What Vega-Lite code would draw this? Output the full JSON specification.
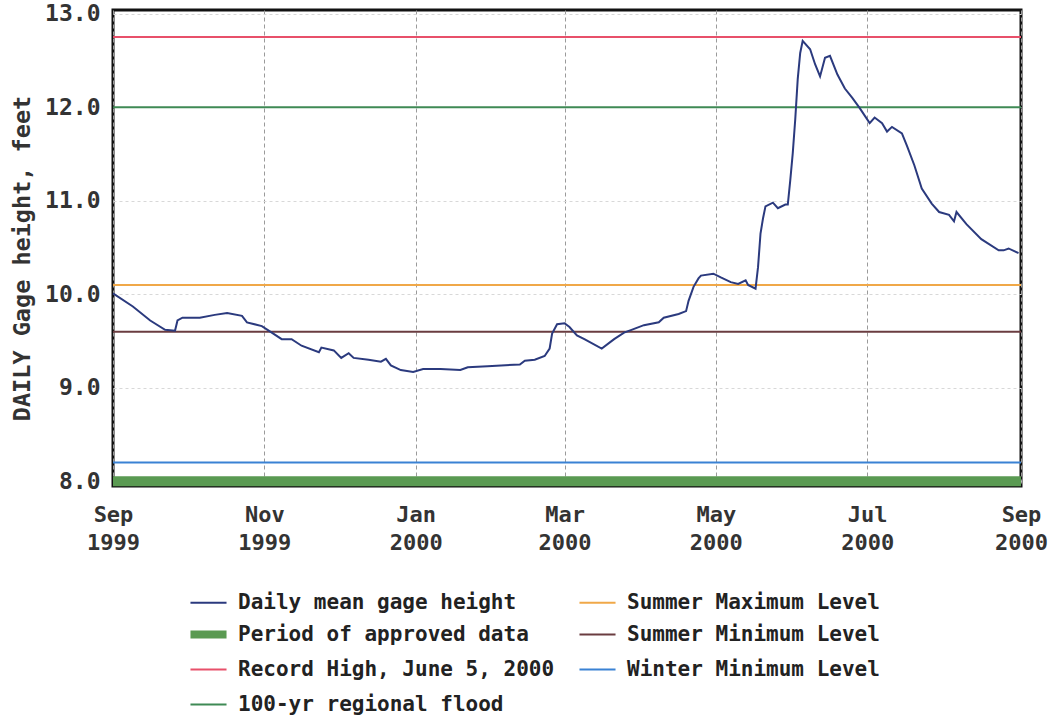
{
  "$schema": "https://vega.github.io/schema/vega-lite/v6.json",
  "width": 908,
  "height": 476,
  "autosize": {"type": "none"},
  "padding": {"left": 113, "top": 10, "right": 27, "bottom": 230},
  "background": "white",
  "config": {
    "view": {"stroke": "#111", "strokeWidth": 3},
    "font": "DejaVu Sans Mono"
  },
  "datasets": {
    "approved": [
      {"series": "Period of approved data", "value": 8.0}
    ],
    "levels": [
      {"series": "Record High, June 5, 2000", "value": 12.75},
      {"series": "100-yr regional flood", "value": 12.0},
      {"series": "Summer Maximum Level", "value": 10.1},
      {"series": "Summer Minimum Level", "value": 9.6},
      {"series": "Winter Minimum Level", "value": 8.2}
    ],
    "daily": [
      {"date": "1999-09-01T00:00", "value": 10.01},
      {"date": "1999-09-09T00:00", "value": 9.87},
      {"date": "1999-09-16T00:00", "value": 9.72},
      {"date": "1999-09-22T00:00", "value": 9.62},
      {"date": "1999-09-26T00:00", "value": 9.61},
      {"date": "1999-09-27T00:00", "value": 9.72},
      {"date": "1999-09-29T00:00", "value": 9.75},
      {"date": "1999-10-06T00:00", "value": 9.75},
      {"date": "1999-10-12T00:00", "value": 9.78},
      {"date": "1999-10-17T00:00", "value": 9.80},
      {"date": "1999-10-23T00:00", "value": 9.77},
      {"date": "1999-10-25T00:00", "value": 9.70},
      {"date": "1999-10-31T00:00", "value": 9.66},
      {"date": "1999-11-04T00:00", "value": 9.59},
      {"date": "1999-11-08T00:00", "value": 9.52},
      {"date": "1999-11-12T00:00", "value": 9.52},
      {"date": "1999-11-16T00:00", "value": 9.45},
      {"date": "1999-11-23T00:00", "value": 9.38},
      {"date": "1999-11-24T00:00", "value": 9.43},
      {"date": "1999-11-29T00:00", "value": 9.40},
      {"date": "1999-12-02T00:00", "value": 9.32},
      {"date": "1999-12-05T00:00", "value": 9.37},
      {"date": "1999-12-07T00:00", "value": 9.32},
      {"date": "1999-12-13T00:00", "value": 9.30},
      {"date": "1999-12-18T00:00", "value": 9.28},
      {"date": "1999-12-20T00:00", "value": 9.31},
      {"date": "1999-12-22T00:00", "value": 9.24},
      {"date": "1999-12-26T00:00", "value": 9.19},
      {"date": "1999-12-31T00:00", "value": 9.17},
      {"date": "2000-01-04T00:00", "value": 9.20},
      {"date": "2000-01-11T00:00", "value": 9.20},
      {"date": "2000-01-19T00:00", "value": 9.19},
      {"date": "2000-01-22T00:00", "value": 9.22},
      {"date": "2000-01-30T00:00", "value": 9.23},
      {"date": "2000-02-12T00:00", "value": 9.25},
      {"date": "2000-02-14T00:00", "value": 9.29},
      {"date": "2000-02-18T00:00", "value": 9.30},
      {"date": "2000-02-22T00:00", "value": 9.34},
      {"date": "2000-02-24T00:00", "value": 9.42},
      {"date": "2000-02-25T00:00", "value": 9.58},
      {"date": "2000-02-27T00:00", "value": 9.68},
      {"date": "2000-03-01T00:00", "value": 9.69},
      {"date": "2000-03-03T00:00", "value": 9.65},
      {"date": "2000-03-06T00:00", "value": 9.56},
      {"date": "2000-03-09T00:00", "value": 9.52},
      {"date": "2000-03-16T00:00", "value": 9.42},
      {"date": "2000-03-21T00:00", "value": 9.52},
      {"date": "2000-03-25T00:00", "value": 9.59},
      {"date": "2000-03-28T00:00", "value": 9.62},
      {"date": "2000-04-02T00:00", "value": 9.67},
      {"date": "2000-04-08T00:00", "value": 9.70},
      {"date": "2000-04-10T00:00", "value": 9.75},
      {"date": "2000-04-16T00:00", "value": 9.79},
      {"date": "2000-04-19T00:00", "value": 9.82},
      {"date": "2000-04-20T00:00", "value": 9.93},
      {"date": "2000-04-22T00:00", "value": 10.08},
      {"date": "2000-04-24T00:00", "value": 10.17},
      {"date": "2000-04-25T00:00", "value": 10.20},
      {"date": "2000-04-30T00:00", "value": 10.22},
      {"date": "2000-05-03T00:00", "value": 10.18},
      {"date": "2000-05-07T00:00", "value": 10.13},
      {"date": "2000-05-10T00:00", "value": 10.11},
      {"date": "2000-05-13T00:00", "value": 10.15},
      {"date": "2000-05-14T00:00", "value": 10.10},
      {"date": "2000-05-17T00:00", "value": 10.06},
      {"date": "2000-05-18T00:00", "value": 10.29},
      {"date": "2000-05-19T00:00", "value": 10.65},
      {"date": "2000-05-20T00:00", "value": 10.81},
      {"date": "2000-05-21T00:00", "value": 10.94},
      {"date": "2000-05-24T00:00", "value": 10.98},
      {"date": "2000-05-26T00:00", "value": 10.92},
      {"date": "2000-05-29T00:00", "value": 10.96},
      {"date": "2000-05-30T00:00", "value": 10.96},
      {"date": "2000-05-31T00:00", "value": 11.22},
      {"date": "2000-06-01T00:00", "value": 11.51},
      {"date": "2000-06-02T00:00", "value": 11.87},
      {"date": "2000-06-03T00:00", "value": 12.30},
      {"date": "2000-06-04T00:00", "value": 12.58},
      {"date": "2000-06-05T00:00", "value": 12.71},
      {"date": "2000-06-08T00:00", "value": 12.62},
      {"date": "2000-06-10T00:00", "value": 12.46},
      {"date": "2000-06-12T00:00", "value": 12.33},
      {"date": "2000-06-14T00:00", "value": 12.53},
      {"date": "2000-06-16T00:00", "value": 12.55},
      {"date": "2000-06-19T00:00", "value": 12.35},
      {"date": "2000-06-22T00:00", "value": 12.20},
      {"date": "2000-06-25T00:00", "value": 12.10},
      {"date": "2000-06-28T00:00", "value": 11.99},
      {"date": "2000-07-02T00:00", "value": 11.83},
      {"date": "2000-07-04T00:00", "value": 11.89},
      {"date": "2000-07-07T00:00", "value": 11.83},
      {"date": "2000-07-09T00:00", "value": 11.74},
      {"date": "2000-07-11T00:00", "value": 11.79},
      {"date": "2000-07-15T00:00", "value": 11.72},
      {"date": "2000-07-17T00:00", "value": 11.59},
      {"date": "2000-07-20T00:00", "value": 11.38},
      {"date": "2000-07-23T00:00", "value": 11.13},
      {"date": "2000-07-27T00:00", "value": 10.97},
      {"date": "2000-07-30T00:00", "value": 10.88},
      {"date": "2000-08-03T00:00", "value": 10.85},
      {"date": "2000-08-05T00:00", "value": 10.78},
      {"date": "2000-08-06T00:00", "value": 10.88},
      {"date": "2000-08-10T00:00", "value": 10.75},
      {"date": "2000-08-16T00:00", "value": 10.59},
      {"date": "2000-08-23T00:00", "value": 10.47},
      {"date": "2000-08-25T00:00", "value": 10.47},
      {"date": "2000-08-27T00:00", "value": 10.49},
      {"date": "2000-08-31T00:00", "value": 10.44}
    ]
  },
  "encoding": {
    "y": {
      "field": "value",
      "type": "quantitative",
      "scale": {"domain": [7.95, 13.04], "nice": false, "zero": false},
      "axis": {
        "values": [8, 9, 10, 11, 12, 13],
        "format": ".1f",
        "labelFont": "DejaVu Sans Mono",
        "labelFontSize": 23,
        "labelFontWeight": "bold",
        "labelColor": "#333",
        "labelPadding": 13,
        "ticks": false,
        "domain": false,
        "grid": true,
        "gridColor": "#d8d8d8",
        "gridDash": [3, 3],
        "title": "DAILY Gage height, feet",
        "titleFont": "DejaVu Sans Mono",
        "titleFontSize": 23.5,
        "titleFontWeight": "bold",
        "titleColor": "#333",
        "titleX": -91,
        "titleY": 248,
        "titleAngle": -90,
        "titleAlign": "center",
        "titleBaseline": "middle"
      }
    },
    "color": {
      "field": "series",
      "type": "nominal",
      "scale": {
        "domain": ["Daily mean gage height", "Period of approved data", "Record High, June 5, 2000", "100-yr regional flood", "Summer Maximum Level", "Summer Minimum Level", "Winter Minimum Level"],
        "range": ["#2b3a7e", "#5a9a52", "#e8506a", "#3f8a55", "#f0a848", "#6a3c40", "#3a82d4"]
      },
      "legend": {
        "orient": "none",
        "legendX": 85,
        "legendY": 579,
        "columns": 2,
        "gridAlign": "all",
        "title": null,
        "symbolType": "stroke",
        "symbolSize": 1300,
        "symbolStrokeWidth": 2,
        "labelFont": "DejaVu Sans Mono",
        "labelFontSize": 21,
        "labelFontWeight": "bold",
        "labelColor": "#222",
        "labelOffset": 19,
        "labelLimit": 0,
        "rowPadding": 2,
        "columnPadding": 20,
        "padding": 0,
        "encode": {
          "symbols": {
            "update": {
              "strokeWidth": {"signal": "datum.value === 'Period of approved data' ? 8 : 2"}
            }
          }
        }
      }
    }
  },
  "layer": [
    {
      "data": {"name": "approved"},
      "mark": {"type": "rule", "strokeWidth": 10}
    },
    {
      "data": {"name": "levels"},
      "mark": {"type": "rule", "strokeWidth": 2}
    },
    {
      "data": {"name": "daily"},
      "mark": {"type": "line", "interpolate": "linear", "strokeWidth": 2},
      "encoding": {
        "x": {
          "field": "date",
          "type": "temporal",
          "scale": {"domain": [{"year": 1999, "month": 9, "date": 1}, {"year": 2000, "month": 9, "date": 1}], "nice": false},
          "axis": {
            "values": [
              {"year": 1999, "month": 9, "date": 1},
              {"year": 1999, "month": 11, "date": 1},
              {"year": 2000, "month": 1, "date": 1},
              {"year": 2000, "month": 3, "date": 1},
              {"year": 2000, "month": 5, "date": 1},
              {"year": 2000, "month": 7, "date": 1},
              {"year": 2000, "month": 9, "date": 1}
            ],
            "labelExpr": "[timeFormat(datum.value, '%b'), timeFormat(datum.value, '%Y')]",
            "labelFont": "DejaVu Sans Mono",
            "labelFontSize": 22,
            "labelFontWeight": "bold",
            "labelColor": "#333",
            "labelLineHeight": 28,
            "labelBaseline": "top",
            "labelPadding": 18,
            "labelFlush": false,
            "labelOverlap": false,
            "labelBound": false,
            "ticks": false,
            "domain": false,
            "grid": true,
            "gridColor": "#9a9a9a",
            "gridDash": [4, 3],
            "title": null
          }
        },
        "color": {"datum": "Daily mean gage height", "type": "nominal"}
      }
    }
  ]
}
